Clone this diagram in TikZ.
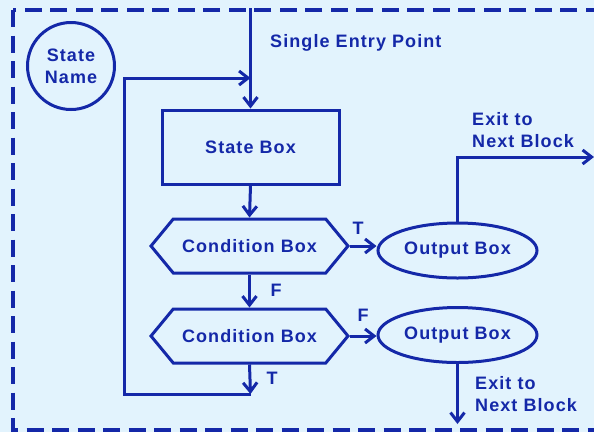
\documentclass[tikz,border=0pt]{standalone}
\usepackage{fontspec}
\setmainfont{Liberation Sans}[LetterSpace=6]
\usetikzlibrary{arrows.meta,shapes.symbols,shapes.geometric}
\definecolor{ink}{RGB}{20,40,168}
\definecolor{bg}{RGB}{226,243,253}
\tikzset{
  txt/.style={text=ink, font=\bfseries\fontsize{18}{22}\selectfont},
  base/.style={txt, draw=ink, line width=3pt, align=center, inner sep=0pt},
  statebox/.style={base, rectangle, minimum width=177pt, minimum height=74pt},
  condbox/.style={base, signal, signal from=nowhere, signal to=east and west, signal pointer angle=101, minimum width=197pt, minimum height=54pt},
  outbox/.style={base, ellipse, minimum width=159pt, minimum height=55pt},
  namecirc/.style={base, circle, minimum size=87pt},
  lbl/.style={txt, inner sep=0pt, align=left},
  conn/.style={draw=ink, line width=3pt, -{Straight Barb[length=9pt,width=14pt,line width=3pt]}},
  frame/.style={draw=ink, line width=4.2pt, dash pattern=on 17pt off 8.5pt}
}
\begin{document}
\begin{tikzpicture}[x=1pt,y=-1pt]
\useasboundingbox (0,0) rectangle (594,432);
\fill[bg] (0,0) rectangle (594,432);
\clip (0,0) rectangle (594,432);
\draw[frame] (13,10) rectangle (640,430);
\node[namecirc] (name) at (71,66) {State\\Name};
\node[statebox] (sbox) at (250.5,147) {State Box};
\node[condbox] (c1) at (249.5,246) {Condition Box};
\node[condbox] (c2) at (249.5,336) {Condition Box};
\node[outbox] (o1) at (457.5,250.5) {Output Box};
\node[outbox] (o2) at (457.5,335) {Output Box};
\coordinate (entry) at (250.5,8);
\coordinate (join) at (250.5,78);
\coordinate (loopB) at (250.5,394);
\coordinate (exit1) at (594,157);
\coordinate (exit2) at (457.5,424);
\node[lbl, anchor=west] (sep) at (270,43) {Single Entry Point};
\node[lbl, anchor=west] (x1) at (472,130) {Exit to\\Next Block};
\node[lbl, anchor=west] (x2) at (475,394) {Exit to\\Next Block};
\node[lbl] (f1) at (276,290) {F};
\node[lbl] (t1) at (358,228) {T};
\node[lbl] (f2) at (363,315) {F};
\node[lbl] (t2) at (272,378) {T};
\draw[conn] (entry) -- (sbox.north);
\draw[conn] (loopB) -- ++(-126,0) |- (join);
\draw[conn] (sbox.south) -- (c1.north);
\draw[conn] (c1.south) -- (c2.north);
\draw[conn] (c2.south) -- (loopB);
\draw[conn] (c1.east) -- (c1.east -| o1.west);
\draw[conn] (c2.east) -- (c2.east -| o2.west);
\draw[conn] (o1.north) |- (exit1);
\draw[conn] (o2.south) -- (exit2);
\end{tikzpicture}
\end{document}
